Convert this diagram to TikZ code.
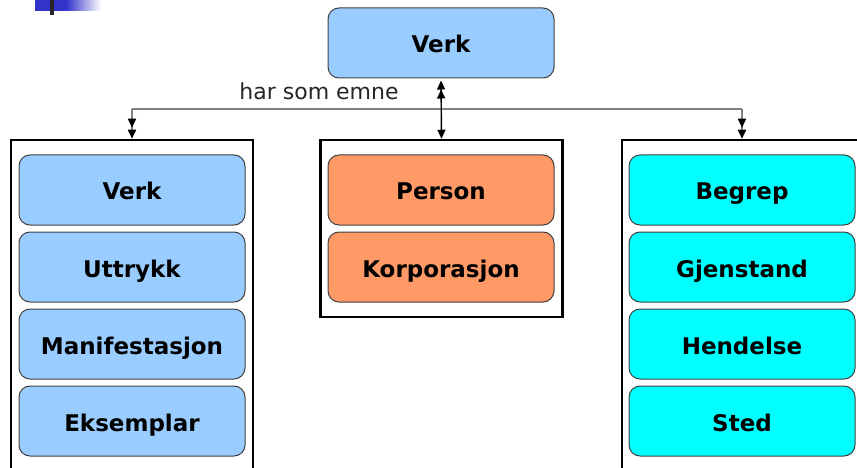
\documentclass[tikz,border=0pt]{standalone}
\usepackage{fontspec}
\setmainfont{DejaVu Sans}
\usetikzlibrary{arrows.meta}
\definecolor{boxblue}{HTML}{99CCFF}
\definecolor{boxorange}{HTML}{FF9966}
\definecolor{boxcyan}{HTML}{00FFFF}
\definecolor{barblue}{HTML}{3333CC}
\definecolor{boxline}{HTML}{404040}
\definecolor{connGray}{HTML}{808080}
\tikzset{
  entity/.style={draw=boxline, line width=1pt, rounded corners=11pt,
    minimum width=226pt, minimum height=70pt, inner sep=0pt,
    text height=20pt, text depth=0pt,
    font=\fontsize{23}{27}\selectfont\bfseries},
  blueent/.style={entity, fill=boxblue},
  orangeent/.style={entity, fill=boxorange},
  cyanent/.style={entity, fill=boxcyan},
  group/.style={draw=black, line width=2.5pt, minimum width=242pt, inner sep=0pt},
  mytip/.tip={Triangle[length=9pt,width=8pt,color=black]},
  branch/.style={draw=connGray, line width=1.6pt},
}
\begin{document}
\begin{tikzpicture}[x=1pt,y=-1pt]
\useasboundingbox (0,0) rectangle (857,468);
% slide decoration
\fill[barblue] (35,0) rectangle (66,11);
\shade[left color=barblue, right color=white] (66,0) rectangle (101,11);
\fill[black!85] (50,0) rectangle (54,15);
% containers
\node[group, minimum height=345pt] (c1) at (132,312.5) {};
\node[group, minimum height=177pt] (c2) at (441.5,228.5) {};
\node[group, minimum height=345pt] (c3) at (743,312.5) {};
% top node
\node[blueent] (verk) at (441,43) {Verk};
% left group
\node[blueent] (v1) at (132,190) {Verk};
\node[blueent] (v2) at (132,267) {Uttrykk};
\node[blueent] (v3) at (132,344) {Manifestasjon};
\node[blueent] (v4) at (132,421) {Eksemplar};
% middle group
\node[orangeent] (p1) at (441,190) {Person};
\node[orangeent] (p2) at (441,267) {Korporasjon};
% right group
\node[cyanent] (s1) at (742,190) {Begrep};
\node[cyanent] (s2) at (742,267) {Gjenstand};
\node[cyanent] (s3) at (742,344) {Hendelse};
\node[cyanent] (s4) at (742,421) {Sted};
% connectors
\coordinate (j) at (441,109);
\coordinate (jl) at (132,109);
\coordinate (jr) at (742,109);
\draw[branch] (jl) -- (jr);
\draw[branch, -{mytip[sep=2pt]mytip}] (jl) -- (c1.north -| jl);
\draw[branch, -{mytip[sep=2pt]mytip}] (jr) -- (c3.north -| jr);
\draw[black, line width=1.4pt, {mytip[sep=2pt]mytip}-{mytip}] (verk.south) -- (c2.north);
\node[anchor=base, font=\fontsize{22}{26}\selectfont, text=black!85] (lbl) at (319,100) {har som emne};
\end{tikzpicture}
\end{document}
